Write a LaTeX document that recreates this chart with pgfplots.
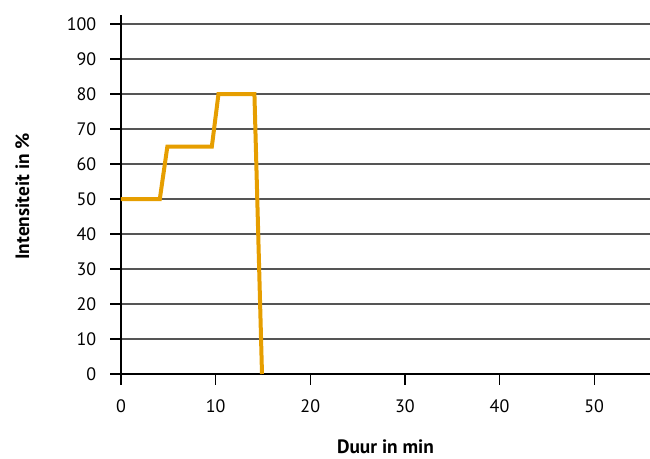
\documentclass[border=0pt]{standalone}
\usepackage{fontspec}
\setmainfont{PT Sans}
\usepackage{pgfplots}
\pgfplotsset{compat=1.18}
\definecolor{lineorange}{HTML}{E69E00}
\definecolor{gridgray}{HTML}{555555}
\begin{document}
\begin{tikzpicture}
\useasboundingbox (-90.75pt,-63.75pt) rectangle (396.75pt,280.5pt);
\begin{axis}[
  at={(0pt,0pt)}, anchor=south west,
  scale only axis, width=396.75pt, height=269.25pt,
  xmin=0, xmax=55.9, ymin=0, ymax=102.6,
  axis lines*=left,
  xtick={0,10,...,50}, ytick={0,10,...,100},
  tick align=outside, major tick length=8pt,
  ymajorgrids, grid style={gridgray, line width=1pt},
  x axis line style={line width=2pt, black},
  y axis line style={line width=1.5pt, black},
  tick style={black, line width=1pt},
  /pgf/number format/assume math mode=true,
  tick label style={font=\fontsize{13.5}{15}\selectfont},
  xticklabel style={anchor=north, yshift=-8pt},
  yticklabel style={anchor=east, xshift=-7pt},
  xlabel={\textbf{Duur in min}}, ylabel={\textbf{Intensiteit in \%}},
  label style={font=\fontsize{14.5}{16}\selectfont},
  xlabel style={at={(axis description cs:0.5,-0.203)}, anchor=center},
  ylabel style={at={(axis description cs:-0.1865,0.495)}, anchor=center},
  clip=false,
]
\addplot[lineorange, line width=3pt, mark=none] coordinates {
  (0,50) (4.1,50) (4.9,65) (9.6,65) (10.3,80) (14.1,80) (14.9,0)
};
\end{axis}
\end{tikzpicture}
\end{document}
